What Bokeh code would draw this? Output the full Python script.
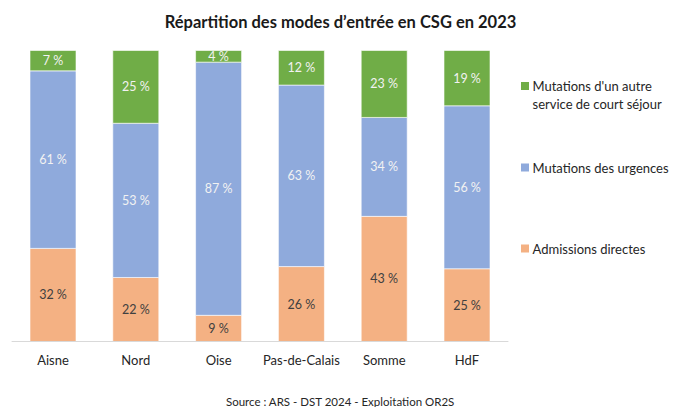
from bokeh.plotting import figure
from bokeh.models import Range1d
from bokeh.core.properties import value
from bokeh.embed import file_html
from bokeh.resources import INLINE

categories = ["Aisne", "Nord", "Oise", "Pas-de-Calais", "Somme", "HdF"]
admissions = [32, 22, 9, 26, 43, 25]
urgences = [61, 53, 87, 63, 34, 56]
mutations_autre = [7, 25, 4, 12, 23, 19]
series_names = ["Mutations d'un autre\nservice de court séjour", "Mutations des urgences", "Admissions directes"]
title_text = "Répartition des modes d’entrée en CSG en 2023"
source_text = "Source : ARS - DST 2024 - Exploitation OR2S"

C_GREEN = "#70ad47"
C_BLUE = "#8faadc"
C_ORANGE = "#f4b183"
FONT = "Lato"

W, H = 673, 407
PXU_X = 82.8
PXU_Y = 2.91
CX0 = 52.5
Y0PX = 341
x0 = -CX0 / PXU_X
x1 = (W - CX0) / PXU_X
y_top = (Y0PX) / PXU_Y
y_bot = -(H - Y0PX) / PXU_Y

def px_to_x(px):
    return (px - CX0) / PXU_X

def py_to_y(py):
    return (Y0PX - py) / PXU_Y

p = figure(width=W, height=H, output_backend="svg", toolbar_location=None,
           x_range=Range1d(x0, x1), y_range=Range1d(y_bot, y_top),
           x_axis_location=None, y_axis_location=None, min_border=0,
           outline_line_color=None, tools="")
p.grid.visible = False
p.background_fill_color = "white"
p.border_fill_color = "white"

xs = list(range(len(categories)))
b0, t0, b1, t1, b2, t2 = [], [], [], [], [], []
for a, u, m in zip(admissions, urgences, mutations_autre):
    tot = a + u + m
    fa = a / tot * 100
    fu = u / tot * 100
    b0.append(0); t0.append(fa)
    b1.append(fa); t1.append(fa + fu)
    b2.append(fa + fu); t2.append(100)

bw = 46 / PXU_X
p.vbar(x=xs, bottom=b0, top=t0, width=bw, fill_color=C_ORANGE, line_color="white", line_width=0.6)
p.vbar(x=xs, bottom=b1, top=t1, width=bw, fill_color=C_BLUE, line_color="white", line_width=0.6)
p.vbar(x=xs, bottom=b2, top=t2, width=bw, fill_color=C_GREEN, line_color="white", line_width=0.6)

# baseline
p.segment(x0=[-0.5], y0=[py_to_y(341)], x1=[5.5], y1=[py_to_y(341)], line_color="#d9d9d9", line_width=1.2)

def lab(vals, bots, tops, color):
    p.text(x=xs, y=[(b + t) / 2 for b, t in zip(bots, tops)], text=[f"{v} %" for v in vals],
           text_align="center", text_baseline="middle", text_color=color,
           text_font=value(FONT), text_font_size="12.5px")

lab(admissions, b0, t0, "#404040")
lab(urgences, b1, t1, "#f2f2f2")
lab(mutations_autre, b2, t2, "#f2f2f2")

# category labels
p.text(x=xs, y=[py_to_y(359)] * len(xs), text=categories, text_align="center", text_baseline="middle",
       text_color="#262626", text_font=value(FONT), text_font_size="13px")

# title
p.text(x=[px_to_x(340)], y=[py_to_y(21)], text=[title_text], text_align="center", text_baseline="middle",
       text_color="#1a1a1a", text_font=value(FONT), text_font_size="16.5px", text_font_style="bold")

# source
p.text(x=[px_to_x(340)], y=[py_to_y(401)], text=[source_text], text_align="center", text_baseline="middle",
       text_color="#262626", text_font=value(FONT), text_font_size="11.5px")

# legend
leg_colors = [C_GREEN, C_BLUE, C_ORANGE]
leg_py = [85.5, 167, 248]
p.scatter(x=[px_to_x(524.5)] * 3, y=[py_to_y(v) for v in leg_py], marker="square", size=8,
          fill_color=leg_colors, line_color=None)
lines_x, lines_y, lines_t = [], [], []
for name, py in zip(series_names, leg_py):
    for k, line in enumerate(name.split("\n")):
        lines_x.append(px_to_x(532))
        lines_y.append(py_to_y(py + 18 * k))
        lines_t.append(line)
p.text(x=lines_x, y=lines_y, text=lines_t, text_align="left", text_baseline="middle",
       text_color="#262626", text_font=value(FONT), text_font_size="13px")

open("out.html", "w").write(file_html(p, INLINE))
